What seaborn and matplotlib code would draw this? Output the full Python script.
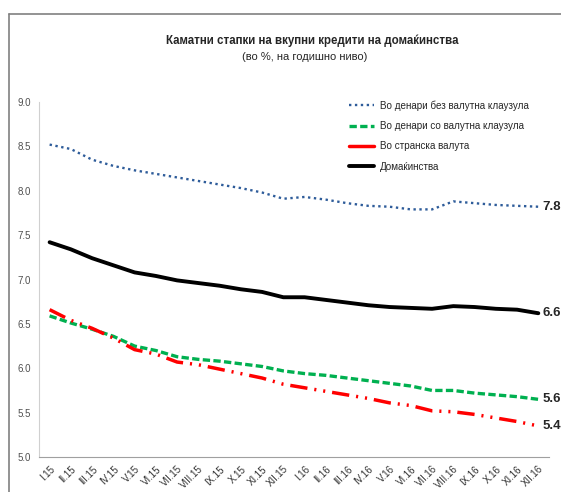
import pandas as pd
import matplotlib.pyplot as plt
from matplotlib.lines import Line2D
import seaborn as sns

months = ['I.15', 'II.15', 'III.15', 'IV.15', 'V.15', 'VI.15', 'VII.15', 'VIII.15', 'IX.15', 'X.15', 'XI.15', 'XII.15',
          'I.16', 'II.16', 'III.16', 'IV.16', 'V.16', 'VI.16', 'VII.16', 'VIII.16', 'IX.16', 'X.16', 'XI.16', 'XII.16']

# Во денари без валутна клаузула
no_clause = [8.52, 8.47, 8.35, 8.28, 8.23, 8.19, 8.15, 8.11, 8.07, 8.03, 7.98, 7.91,
             7.93, 7.90, 7.86, 7.83, 7.82, 7.79, 7.79, 7.88, 7.86, 7.84, 7.83, 7.82]
# Во денари со валутна клаузула
with_clause = [6.59, 6.51, 6.44, 6.36, 6.25, 6.20, 6.13, 6.10, 6.08, 6.05, 6.02, 5.97,
               5.94, 5.92, 5.89, 5.86, 5.83, 5.80, 5.75, 5.75, 5.72, 5.70, 5.68, 5.65]
# Во странска валута
foreign = [6.66, 6.54, 6.45, 6.34, 6.21, 6.16, 6.07, 6.04, 5.99, 5.94, 5.89, 5.82,
           5.78, 5.74, 5.70, 5.66, 5.61, 5.58, 5.52, 5.51, 5.48, 5.44, 5.40, 5.35]
# Домаќинства
households = [7.42, 7.34, 7.24, 7.16, 7.08, 7.04, 6.99, 6.96, 6.93, 6.89, 6.86, 6.80,
              6.80, 6.77, 6.74, 6.71, 6.69, 6.68, 6.67, 6.70, 6.69, 6.67, 6.66, 6.62]

end_labels = ['7.8', '5.6', '5.4', '6.6']

# name, values, colour, line dashes, legend dashes, width
series = [
    ('Во денари без валутна клаузула', no_clause, '#2E5C9A', (1.0, 1.5), (1.0, 1.5), 1.7),
    ('Во денари со валутна клаузула', with_clause, '#00B050', (2.2, 1.0), (2.2, 1.0), 2.4),
    ('Во странска валута', foreign, '#FF0000', (5.0, 2.0, 0.6, 2.0, 0.6, 2.0), '', 2.5),
    ('Домаќинства', households, '#000000', '', '', 2.8),
]

sns.set_style('white')
plt.rcParams['font.family'] = ['Liberation Sans', 'DejaVu Sans']

fig = plt.figure(figsize=(5.61, 4.92), dpi=100)
ax = fig.add_axes([0.0695, 0.0711, 0.909, 0.7216])

x = list(range(len(months)))
handles = []
for (name, vals, color, dash, ldash, lw), lab in zip(series, end_labels):
    df = pd.DataFrame({'x': x, 'y': vals})
    sns.lineplot(data=df, x='x', y='y', ax=ax, color=color, linewidth=lw)
    line = ax.lines[-1]
    if dash:
        line.set_dashes(dash)
    ax.text(x[-1] + 0.2, vals[-1], lab, fontsize=9.5, fontweight='bold', va='center', ha='left')
    h = Line2D([0], [0], color=color, linewidth=lw)
    if ldash:
        h.set_dashes(ldash)
    handles.append(h)

ax.set_xlim(-0.5, len(months) - 0.5)
ax.set_ylim(5.0, 9.0)
ax.set_yticks([5.0, 5.5, 6.0, 6.5, 7.0, 7.5, 8.0, 8.5, 9.0])
ax.set_yticklabels([f'{v:.1f}' for v in ax.get_yticks()], fontsize=7, color='#505050')
ax.set_xticks(x)
ax.set_xticklabels(months, rotation=45, fontsize=7, ha='right', rotation_mode='anchor', color='#333333')
ax.set_xticks([i - 0.5 for i in range(len(months) + 1)], minor=True)
ax.tick_params(axis='x', which='major', length=0, pad=5)
ax.tick_params(axis='x', which='minor', length=4, color='#A0A0A0', width=0.8)
ax.tick_params(axis='y', length=3, color='#C8C8C8', width=0.8, pad=3)
ax.set_xlabel('')
ax.set_ylabel('')
for s in ['top', 'right']:
    ax.spines[s].set_visible(False)
ax.spines['left'].set_color('#D0D0D0')
ax.spines['bottom'].set_color('#A0A0A0')
ax.spines['left'].set_linewidth(0.8)
ax.spines['bottom'].set_linewidth(0.8)

ax.legend(handles, [s[0] for s in series], loc='upper left', bbox_to_anchor=(0.59, 1.03),
          frameon=False, fontsize=7.1, handlelength=2.6, labelspacing=1.05, handletextpad=0.6)

fig.text(0.556, 0.917, 'Каматни стапки на вкупни кредити на домаќинства', ha='center', va='center',
         fontsize=8.3, fontweight='bold')
fig.text(0.544, 0.884, '(во %, на годишно ниво)', ha='center', va='center', fontsize=8)

# frame lines like the original screenshot
fig.add_artist(Line2D([9 / 561, 1], [1 - 14 / 492, 1 - 14 / 492], color='#808080', linewidth=1.2))
fig.add_artist(Line2D([9 / 561, 9 / 561], [0, 1 - 14 / 492], color='#808080', linewidth=1.2))

fig.savefig('out.png', dpi=100)
